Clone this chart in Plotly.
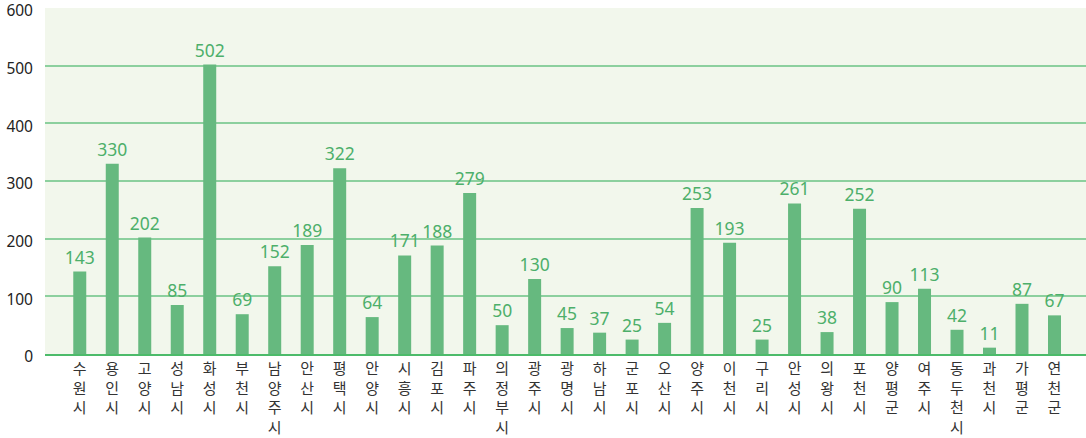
import plotly.graph_objects as go

cities = ["수원시", "용인시", "고양시", "성남시", "화성시", "부천시", "남양주시", "안산시",
          "평택시", "안양시", "시흥시", "김포시", "파주시", "의정부시", "광주시", "광명시",
          "하남시", "군포시", "오산시", "양주시", "이천시", "구리시", "안성시", "의왕시",
          "포천시", "양평군", "여주시", "동두천시", "과천시", "가평군", "연천군"]
values = [143, 330, 202, 85, 502, 69, 152, 189, 322, 64, 171, 188, 279, 50, 130, 45,
          37, 25, 54, 253, 193, 25, 261, 38, 252, 90, 113, 42, 11, 87, 67]
y_ticks = [0, 100, 200, 300, 400, 500, 600]

tick_text = ["<br>".join(list(c)) for c in cities]

fig = go.Figure(go.Bar(
    x=list(range(len(cities))), y=values,
    marker=dict(color="#66B97F", line=dict(width=0)),
    width=0.4,
    text=[str(v) for v in values], textposition="outside",
    constraintext="none",
    textfont=dict(color="#4DAF6A", size=17.5, family="Noto Sans"),
    cliponaxis=False,
))

fig.update_layout(
    width=1086, height=438,
    margin=dict(l=45, r=0, t=8, b=84),
    plot_bgcolor="#F2F7EC", paper_bgcolor="white",
    font=dict(family="Noto Sans CJK KR", size=15, color="#222"),
    showlegend=False,
)
fig.update_xaxes(
    tickmode="array", tickvals=list(range(len(cities))), ticktext=tick_text,
    range=[-1.07, 30.97], showgrid=False, showline=True, linecolor="#4CBB6A", linewidth=2,
    ticks="", tickfont=dict(size=15, color="#333", family="Noto Sans CJK KR"),
    automargin=False,
)
fig.update_yaxes(
    range=[0, 600], tickvals=y_ticks, showgrid=True, gridcolor="#8CD09E", gridwidth=1.5,
    zeroline=False, ticks="", tickfont=dict(size=15.5, color="#222", family="Noto Sans"),
    ticklabelstandoff=11, automargin=False, ticklabeloverflow="allow",
    ticklabelshift=3,
)

fig.write_html("out.html", post_script="document.body.style.margin='0';",
               config={"displayModeBar": False})
